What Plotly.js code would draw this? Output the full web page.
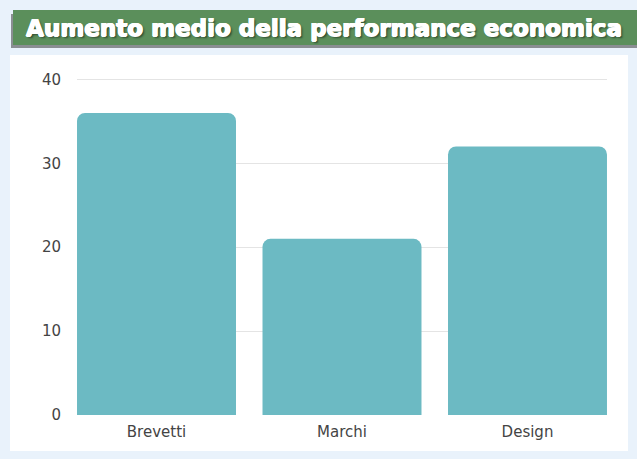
<!DOCTYPE html>
<html><head><meta charset="utf-8">
<script src="https://cdn.plot.ly/plotly-3.0.1.min.js"></script>
<style>html,body{margin:0;padding:0;background:#e9f2fb;}</style>
</head><body>
<div id="chart" style="width:637px;height:459px;"></div>
<script>
const categories = ["Brevetti", "Marchi", "Design"];
const values = [36, 21, 32];
const yTicks = [0, 10, 20, 30, 40];
const titleText = "Aumento medio della performance economica";

const W = 637, H = 459;
const L = 77, R = 607, T = 71, B = 415;
const pw = R - L, ph = B - T;
const px = x => (x - L) / pw;
const py = y => (B - y) / ph;

const data = [{
  type: "bar",
  x: categories,
  y: values,
  marker: {color: "#6cbac3", cornerradius: 8},
  hoverinfo: "none"
}];

const layout = {
  width: W, height: H,
  margin: {l: L, r: W - R, t: T, b: H - B, pad: 0},
  paper_bgcolor: "#e9f2fb",
  plot_bgcolor: "rgba(0,0,0,0)",
  bargap: 0.143,
  showlegend: false,
  title: {
    text: "<b>" + titleText + "</b>",
    x: 324 / W, xanchor: "center",
    y: 1 - 28 / H, yanchor: "middle", yref: "container",
    font: {family: "DejaVu Sans", size: 23, color: "#ffffff",
           shadow: "0.8px 0 0 #fff, -0.6px 0 0 #fff, 0 0.6px 0 #fff, 0 -0.4px 0 #fff, 2px 2px 2px rgba(0,0,0,0.45)"}
  },
  xaxis: {
    type: "category",
    range: [-0.4286, 2.4286],
    showgrid: false, zeroline: false, showline: false,
    tickfont: {family: "DejaVu Sans", size: 15, color: "#444"},
    ticks: "outside", ticklen: 3, tickcolor: "rgba(0,0,0,0)"
  },
  yaxis: {
    range: [0, 41],
    tickvals: yTicks,
    showgrid: true, gridcolor: "#e4e4e4", gridwidth: 1,
    zeroline: false, showline: false,
    tickfont: {family: "DejaVu Sans", size: 15, color: "#444"},
    ticks: "outside", ticklen: 12, tickcolor: "rgba(0,0,0,0)"
  },
  shapes: [
    {type: "rect", xref: "paper", yref: "paper", layer: "below",
     x0: px(10), x1: px(628), y0: py(451), y1: py(55),
     fillcolor: "#ffffff", line: {width: 0}},
    {type: "rect", xref: "paper", yref: "paper", layer: "below",
     x0: px(11), x1: px(637), y0: py(48), y1: py(14),
     fillcolor: "rgba(60,60,60,0.55)", line: {width: 0}},
    {type: "rect", xref: "paper", yref: "paper", layer: "below",
     x0: px(13), x1: px(637), y0: py(45), y1: py(10),
     fillcolor: "#5b8f5b", line: {width: 0}}
  ]
};

Plotly.newPlot("chart", data, layout, {displayModeBar: false, staticPlot: true});
</script>
</body></html>
